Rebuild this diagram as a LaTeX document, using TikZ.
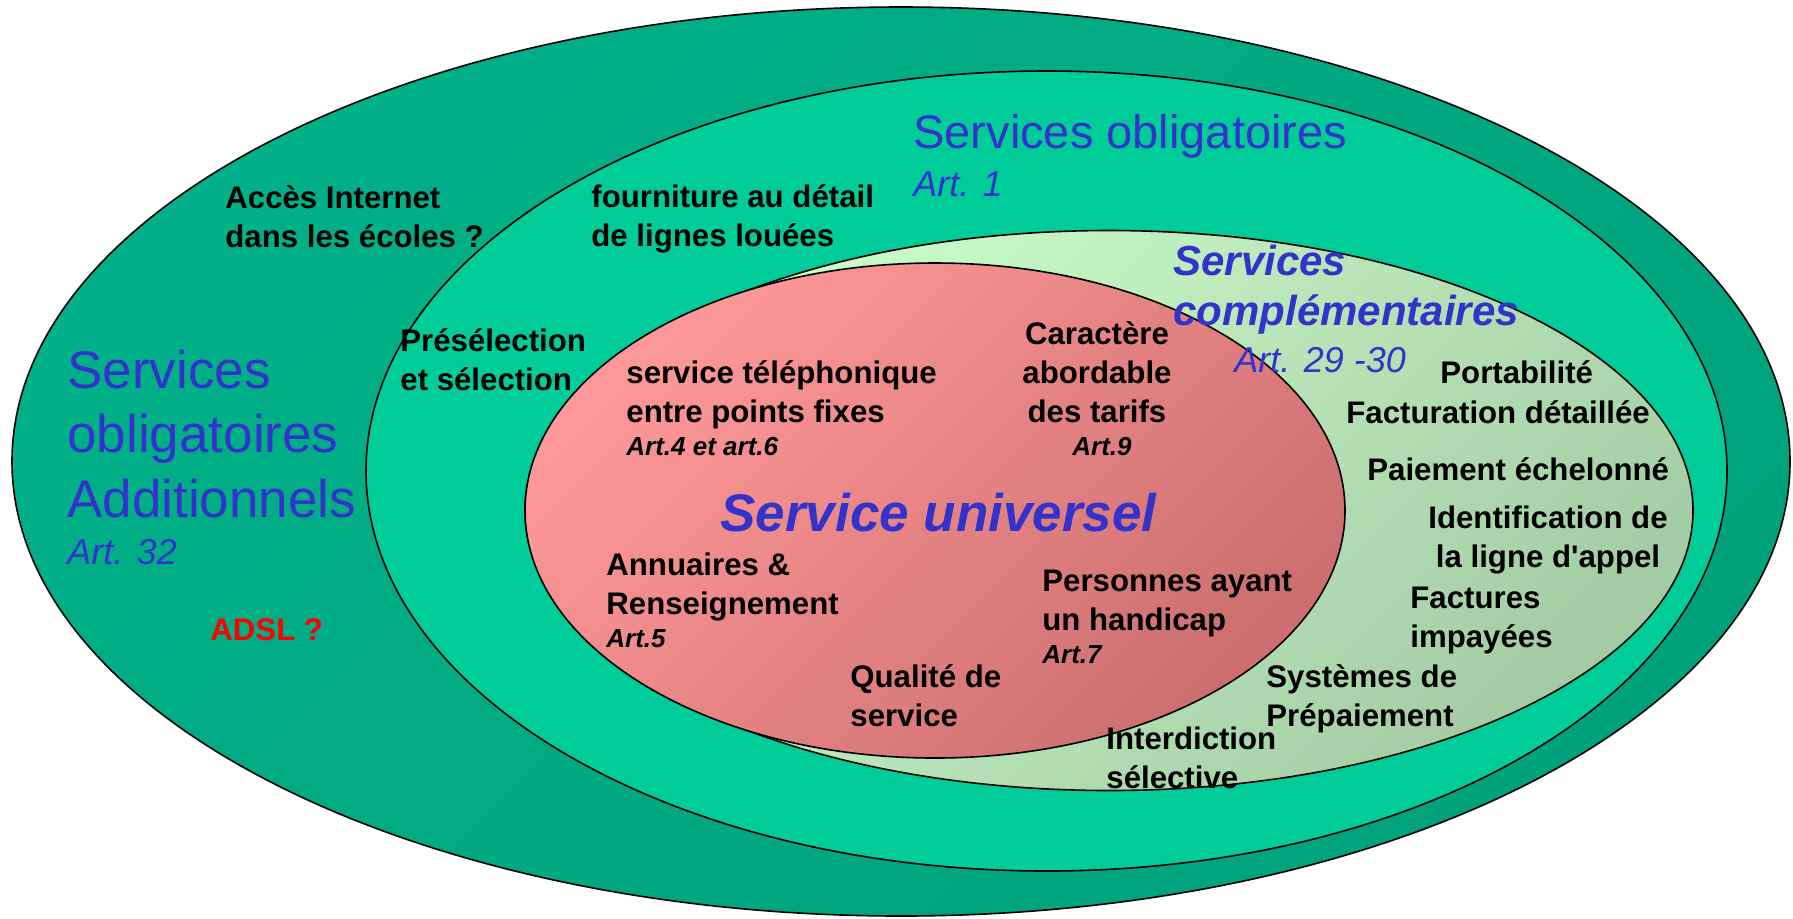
\documentclass[tikz,border=0pt]{standalone}
\usepackage{fontspec}
\setmainfont{Liberation Sans}
\usetikzlibrary{positioning}

\definecolor{outergreen}{RGB}{0,176,136}
\definecolor{outergreendk}{RGB}{0,162,124}
\definecolor{obliggreen}{RGB}{0,204,153}
\definecolor{complight}{RGB}{204,255,204}
\definecolor{compdark}{RGB}{164,204,164}
\definecolor{univlight}{RGB}{255,153,153}
\definecolor{univdark}{RGB}{204,110,110}
\definecolor{titleblue}{RGB}{51,51,204}

\begin{document}
\begin{tikzpicture}[
  x=0.5pt, y=-0.5pt,
  ring/.style={draw=black, line width=0.8pt},
  zone/.style 2 args={ring, top color=#1, bottom color=#2, shading angle=45},
  lbl/.style={font=\fontsize{15.6}{19.5}\selectfont\bfseries, align=left,
    inner sep=0pt, anchor=base west},
  artref/.style={font=\fontsize{13}{16}\selectfont\bfseries\itshape,
    inner sep=0pt, anchor=base west},
  bigblue/.style={text=titleblue, inner sep=0pt, anchor=base west, align=left},
  ]

  \fill[white] (0,0) rectangle (1793,918);
  \useasboundingbox (0,0) rectangle (1793,918);

  % the four nested zones
  \draw[zone={outergreen}{outergreendk}]
    (901,461.5) ellipse [x radius=444.5pt, y radius=227.25pt];
  \draw[ring, fill=obliggreen]
    (1046.5,471) ellipse [x radius=340.25pt, y radius=200pt];
  \draw[zone={complight}{compdark}]
    (1109,510.5) ellipse [x radius=292pt, y radius=140pt];
  \draw[zone={univlight}{univdark}]
    (935,510.5) ellipse [x radius=205pt, y radius=123.75pt];

  % outer zone (multi-line nodes sit on their last line)
  \node[bigblue, font=\fontsize{26.5}{32.25}\selectfont] (addit) at (67,517)
    {Services\\obligatoires\\Additionnels};
  \node[bigblue, font=\fontsize{18}{22}\selectfont\itshape] (art32) at (67,564) {Art. 32};
  \node[lbl] (ecoles) at (225,247) {Accès Internet\\dans les écoles ?};
  \node[lbl, text=red] (adsl) at (210,640) {ADSL ?};

  % services obligatoires
  \node[bigblue, font=\fontsize{23.5}{28}\selectfont] (oblig) at (913,148) {Services obligatoires};
  \node[bigblue, font=\fontsize{18}{22}\selectfont\itshape] (art1) at (913,196) {Art. 1};
  \node[lbl] (lignes) at (591,246) {fourniture au détail\\de lignes louées};
  \node[lbl] (presel) at (400,390) {Présélection\\et sélection};

  % services complementaires
  \node[bigblue, font=\fontsize{21}{25}\selectfont\bfseries\itshape] (compl) at (1173,325)
    {Services\\complémentaires};
  \node[bigblue, font=\fontsize{18}{22}\selectfont\itshape] (art2930) at (1234,372) {Art. 29 -30};
  \node[lbl] (porta) at (1440,383) {Portabilité};
  \node[lbl] (factu) at (1346,423) {Facturation détaillée};
  \node[lbl] (paiem) at (1367,480) {Paiement échelonné};
  \node[lbl, align=center, anchor=base] (ident) at (1548,567)
    {Identification de\\la ligne d\textquotesingle appel};
  \node[lbl] (impay) at (1410,647) {Factures\\impayées};
  \node[lbl] (prepai) at (1266,726) {Systèmes de\\Prépaiement};
  \node[lbl] (interd) at (1106,788) {Interdiction\\sélective};

  % service universel
  \node[bigblue, font=\fontsize{26.5}{32}\selectfont\bfseries\itshape] (univ) at (720,531)
    {Service universel};
  \node[lbl] (telfix) at (626,422) {service téléphonique\\entre points fixes};
  \node[artref] (art46) at (626,455) {Art.4 et art.6};
  \node[lbl, align=center, anchor=base] (tarifs) at (1097,422) {Caractère\\abordable\\des tarifs};
  \node[artref, anchor=base] (art9) at (1102,455) {Art.9};
  \node[lbl] (annu) at (606,614) {Annuaires \&\\Renseignement};
  \node[artref] (art5) at (606,647) {Art.5};
  \node[lbl] (quali) at (850,726) {Qualité de\\service};
  \node[lbl] (handi) at (1042,630) {Personnes ayant\\un handicap};
  \node[artref] (art7) at (1042,663) {Art.7};

\end{tikzpicture}
\end{document}
